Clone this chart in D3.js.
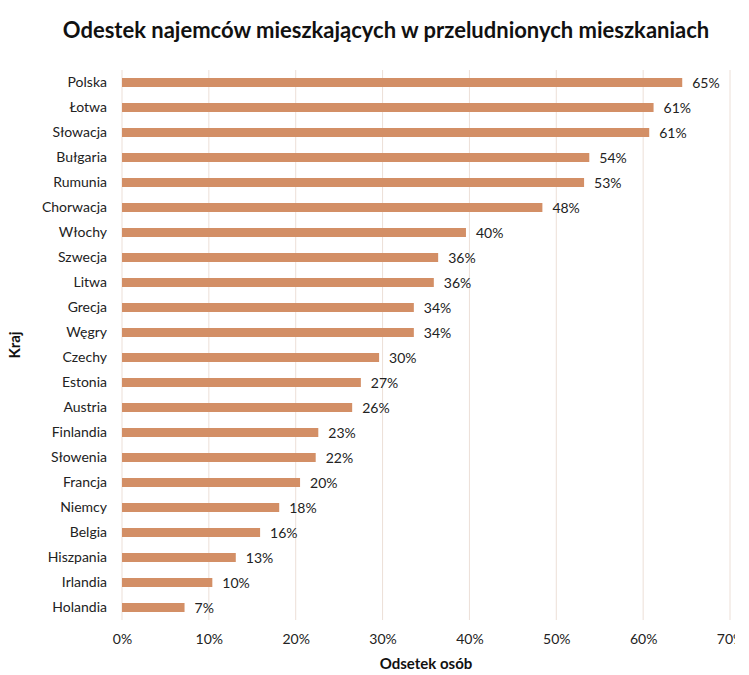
<!DOCTYPE html>
<html><head><meta charset="utf-8">
<script src="https://cdn.jsdelivr.net/npm/d3@7"></script>
<style>body{margin:0;background:#fff}</style>
</head><body>
<svg id="c" width="749" height="675"></svg>
<script>
const categories = ["Polska","Łotwa","Słowacja","Bułgaria","Rumunia","Chorwacja","Włochy","Szwecja","Litwa","Grecja","Węgry","Czechy","Estonia","Austria","Finlandia","Słowenia","Francja","Niemcy","Belgia","Hiszpania","Irlandia","Holandia"];
const values = [64.5,61.2,60.7,53.8,53.2,48.4,39.6,36.4,35.9,33.6,33.6,29.6,27.5,26.5,22.6,22.3,20.5,18.1,15.9,13.1,10.4,7.2];
const labels = ["65%","61%","61%","54%","53%","48%","40%","36%","36%","34%","34%","30%","27%","26%","23%","22%","20%","18%","16%","13%","10%","7%"];
const xTicks = [0,10,20,30,40,50,60,70];

const font = "Lato, 'Open Sans', sans-serif";
const svg = d3.select("#c");
const L = 122, R = 730, T = 70, B = 620;
const x = d3.scaleLinear().domain([0,70]).range([L,R]);
const y = d3.scaleBand().domain(categories).range([T,B]).paddingInner(0.64).paddingOuter(0.32);

svg.append("defs").append("clipPath").attr("id","clipR")
  .append("rect").attr("x",0).attr("y",0).attr("width",735).attr("height",675);

// gridlines
svg.append("g").selectAll("line").data(xTicks).join("line")
  .attr("x1", d=>x(d)).attr("x2", d=>x(d)).attr("y1", T).attr("y2", B)
  .attr("stroke", "#ecdfd7").attr("stroke-width", 1);

// bars
svg.append("g").selectAll("rect").data(values).join("rect")
  .attr("x", x(0)).attr("y", (d,i)=>y(categories[i]))
  .attr("width", d=>x(d)-x(0)).attr("height", y.bandwidth())
  .attr("fill", "#d38f66");

// value labels
svg.append("g").selectAll("text").data(values).join("text")
  .attr("x", d=>x(d)+10).attr("y", (d,i)=>y(categories[i])+y.bandwidth()/2)
  .attr("dy","0.36em").attr("font-family", font).attr("font-size", 14).attr("fill","#222")
  .text((d,i)=>labels[i]);

// y axis
const ya = svg.append("g").attr("transform", `translate(${L},0)`)
  .call(d3.axisLeft(y).tickSize(0).tickPadding(15));
ya.select(".domain").remove();
ya.selectAll("text").attr("font-family", font).attr("font-size", 14).attr("fill","#222");

// x axis
const xa = svg.append("g").attr("transform", `translate(0,${B})`).attr("clip-path","url(#clipR)")
  .call(d3.axisBottom(x).tickValues(xTicks).tickFormat(d=>d+"%").tickSize(0).tickPadding(14));
xa.select(".domain").remove();
xa.selectAll("text").attr("font-family", font).attr("font-size", 14).attr("fill","#222");

// titles
svg.append("text").attr("x", 386).attr("y", 38).attr("text-anchor","middle")
  .attr("font-family", font).attr("font-weight","bold").attr("font-size", 22).attr("fill","#111")
  .text("Odestek najemców mieszkających w przeludnionych mieszkaniach");
svg.append("text").attr("x", (L+R)/2).attr("y", 669).attr("text-anchor","middle")
  .attr("font-family", font).attr("font-weight","bold").attr("font-size", 15).attr("fill","#111")
  .text("Odsetek osób");
svg.append("text").attr("transform", `translate(20,${(T+B)/2}) rotate(-90)`).attr("text-anchor","middle")
  .attr("font-family", font).attr("font-weight","bold").attr("font-size", 15).attr("fill","#111")
  .text("Kraj");
</script>
</body></html>
